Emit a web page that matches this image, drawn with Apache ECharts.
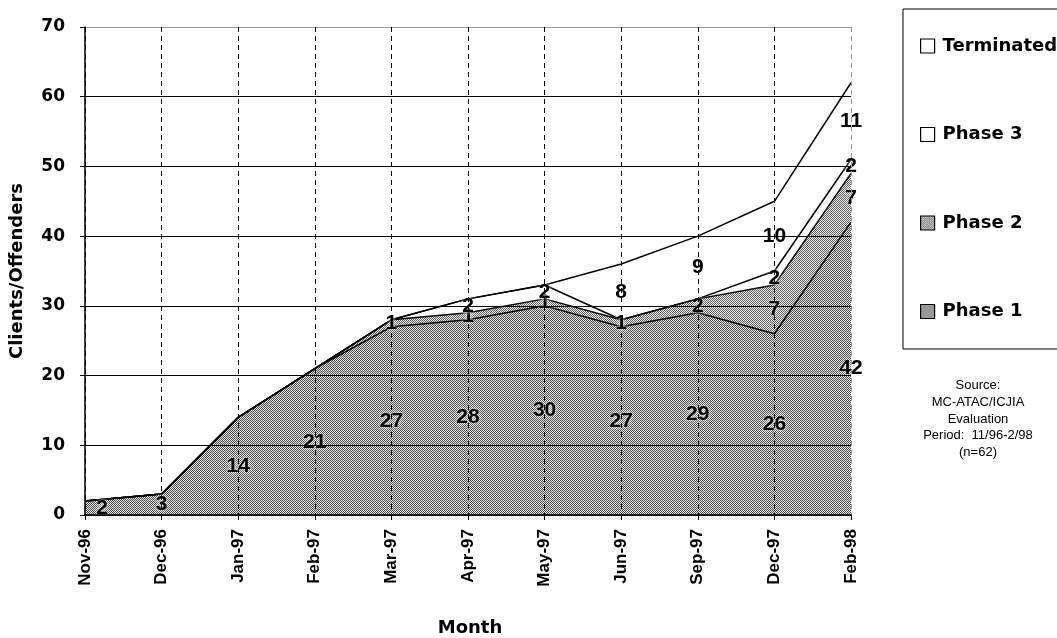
<!DOCTYPE html>
<html>
<head>
<meta charset="utf-8">
<script src="https://cdn.jsdelivr.net/npm/echarts@6/dist/echarts.min.js"></script>
<style>
  html, body { margin: 0; padding: 0; background: #fff; }
  #chart { width: 1057px; height: 638px; }
</style>
</head>
<body>
<div id="chart"></div>
<script>
// Monthly client counts by program status
const months = ['Nov-96', 'Dec-96', 'Jan-97', 'Feb-97', 'Mar-97', 'Apr-97', 'May-97', 'Jun-97', 'Sep-97', 'Dec-97', 'Feb-98'];
const phase1 = [2, 3, 14, 21, 27, 28, 30, 27, 29, 26, 42];
const phase2 = [0, 0, 0, 0, 1, 1, 1, 1, 2, 7, 7];
const phase3 = [0, 0, 0, 0, 0, 2, 2, 0, 0, 2, 2];
const terminated = [0, 0, 0, 0, 0, 0, 0, 8, 9, 10, 11];
const yTicks = [0, 10, 20, 30, 40, 50, 60, 70];
const sourceLines = ['Source:', 'MC-ATAC/ICJIA', 'Evaluation', 'Period:  11/96-2/98', '(n=62)'];

const FONT = 'Arial, "Liberation Sans", sans-serif';
const WIDE = '"DejaVu Sans", sans-serif';

// halftone fill used for the shaded bands
function halftone(dark, light) {
  const c = document.createElement('canvas');
  c.width = 4; c.height = 4;
  const ctx = c.getContext('2d');
  for (let y = 0; y < 4; y++) {
    for (let x = 0; x < 4; x++) {
      ctx.fillStyle = (x + y) % 2 === 0 ? dark : light;
      ctx.fillRect(x, y, 1, 1);
    }
  }
  return { image: c, repeat: 'repeat' };
}
const fill1 = halftone('#4f4f4f', '#e2e2e2');
const fill2 = halftone('#626262', '#eaeaea');

const layers = [
  { name: 'Phase 1', data: phase1, fill: fill1 },
  { name: 'Phase 2', data: phase2, fill: fill2 },
  { name: 'Phase 3', data: phase3, fill: '#ffffff' },
  { name: 'Terminated', data: terminated, fill: '#ffffff' }
];

const areaSeries = layers.map(l => ({
  name: l.name,
  type: 'line',
  stack: 'total',
  data: l.data,
  symbol: 'none',
  lineStyle: { color: '#000', width: 1.5 },
  itemStyle: { color: l.fill, borderColor: '#000', borderWidth: 1 },
  areaStyle: { color: l.fill, opacity: 1 },
  z: 2
}));

// value labels sit at the middle of each band
const labelPoints = [];
const base = months.map(() => 0);
layers.forEach(l => {
  l.data.forEach((v, i) => {
    if (v > 0) {
      labelPoints.push({
        value: [i, base[i] + v / 2, v],
        label: i === 0 ? { offset: [17, 0] } : {}
      });
    }
    base[i] += v;
  });
});

const labelSeries = {
  type: 'scatter',
  data: labelPoints,
  symbol: 'circle',
  symbolSize: 0,
  itemStyle: { color: '#000', opacity: 1 },
  silent: true,
  z: 5,
  label: {
    show: true,
    position: 'inside',
    formatter: p => String(p.value[2]),
    fontFamily: FONT,
    fontWeight: 'bold',
    fontSize: 21,
    color: '#000',
    opacity: 1,
    textShadowColor: '#ffffff',
    textShadowBlur: 4,
    textShadowOffsetX: 0,
    textShadowOffsetY: 0
  }
};

const chart = echarts.init(document.getElementById('chart'), null, { renderer: 'canvas' });
chart.setOption({
  backgroundColor: '#fff',
  animation: false,
  grid: { left: 85, right: 206, top: 27, bottom: 123, containLabel: false, outerBoundsMode: 'none' },
  legend: {
    orient: 'vertical',
    left: 915,
    top: 32,
    itemGap: 70.5,
    itemWidth: 14,
    itemHeight: 14,
    icon: 'rect',
    data: ['Terminated', 'Phase 3', 'Phase 2', 'Phase 1'],
    textStyle: { fontFamily: WIDE, fontWeight: 'bold', fontSize: 18, color: '#000', padding: [0, 0, 0, 3] },
    itemStyle: { borderColor: '#000', borderWidth: 1.2 }
  },
  xAxis: {
    type: 'category',
    data: months,
    boundaryGap: false,
    name: 'Month',
    nameLocation: 'middle',
    nameGap: 104,
    nameTextStyle: { fontFamily: WIDE, fontWeight: 'bold', fontSize: 18, color: '#000', padding: [0, 0, 0, 4] },
    axisLine: { show: true, lineStyle: { color: '#000', width: 1.5 } },
    axisTick: { show: true, alignWithLabel: true, length: 5, lineStyle: { color: '#000' } },
    axisLabel: { rotate: 90, margin: 14, fontFamily: FONT, fontWeight: 'bold', fontSize: 17, color: '#000' },
    splitLine: {
      show: true,
      lineStyle: {
        type: [5, 4],
        width: 1,
        color: months.map((m, i) => i === months.length - 1 ? '#999' : '#000')
      }
    },
    z: 10
  },
  yAxis: {
    type: 'value',
    min: yTicks[0],
    max: yTicks[yTicks.length - 1],
    interval: 10,
    name: 'Clients/Offenders',
    nameLocation: 'middle',
    nameGap: 59,
    nameTextStyle: { fontFamily: WIDE, fontWeight: 'bold', fontSize: 18, color: '#000' },
    axisLine: { show: true, lineStyle: { color: '#000', width: 1.5 } },
    axisTick: { show: true, length: 5, lineStyle: { color: '#000' } },
    axisLabel: { margin: 20, fontFamily: WIDE, fontWeight: 'bold', fontSize: 17, color: '#000' },
    splitLine: {
      show: true,
      lineStyle: {
        type: 'solid',
        width: 1,
        color: yTicks.map((t, i) => i === yTicks.length - 1 ? '#999' : '#000')
      }
    },
    z: 10
  },
  graphic: [
    {
      type: 'rect',
      x: 903, y: 9,
      shape: { x: 0, y: 0, width: 170, height: 340 },
      style: { fill: 'none', stroke: '#000', lineWidth: 1 },
      z: -1
    },
    {
      type: 'text',
      x: 978, y: 377,
      style: {
        text: sourceLines.join('\n'),
        align: 'center',
        verticalAlign: 'top',
        font: '13px ' + FONT,
        lineHeight: 16.8,
        fill: '#000'
      },
      z: 20
    }
  ],
  series: [...areaSeries, labelSeries]
});
</script>
</body>
</html>
